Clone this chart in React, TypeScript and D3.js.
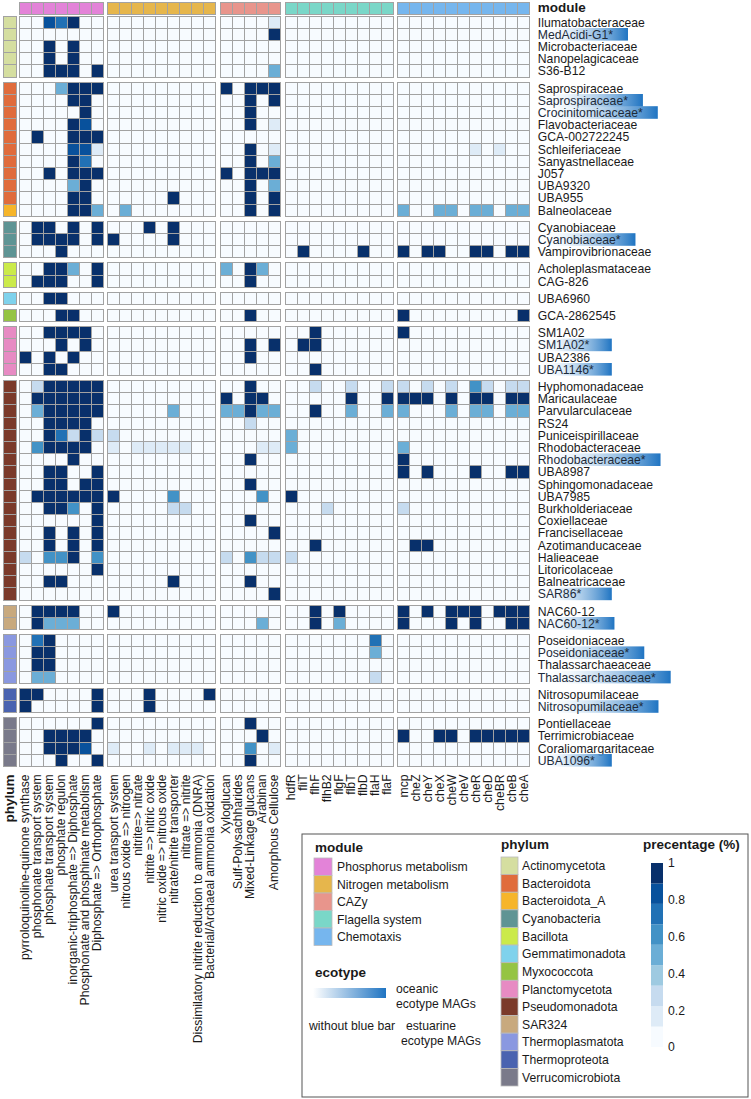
import { useMemo } from 'react';
import * as d3 from 'd3';

// ---- modules / genes ----
const moduleNames = ['Phosphorus metabolism', 'Nitrogen metabolism', 'CAZy', 'Flagella system', 'Chemotaxis'];
const moduleColors = ['#e383d8', '#e6b64c', '#e8958c', '#7ad7c8', '#76b6ee'];

const phosphorusGenes = [
  'pyrroloquinoline-quinone synthase', 'phosphonate transport system', 'phosphate transport system',
  'phosphate regulon', 'inorganic-triphosphate => Diphosphate', 'Phosphonate and phosphinate metabolism',
  'Diphosphate => Orthophosphate',
];
const nitrogenGenes = [
  'urea transport system', 'nitrous oxide => nitrogen', 'nitrite=> nitrate', 'nitrite => nitric oxide',
  'nitric oxide => nitrous oxide', 'nitrate/nitrite transporter', 'nitrate => nitrite',
  'Dissimilatory nitrite reduction to ammonia (DNRA)', 'Bacterial/Archaeal ammonia oxidation',
];
const cazyGenes = ['Xyloglucan', 'Sulf-Polysachharides', 'Mixed-Linkage glucans', 'Arabinan', 'Amorphous Cellulose'];
const flagellaGenes = ['hdfR', 'fliT', 'flhF', 'flhB2', 'flgF', 'flbT', 'flbD', 'flaH', 'flaF'];
const chemotaxisGenes = ['mcp', 'cheZ', 'cheY', 'cheX', 'cheW', 'cheV', 'cheR', 'cheD', 'cheBR', 'cheB', 'cheA'];

// ---- phyla ----
const phyla = [
  'Actinomycetota', 'Bacteroidota', 'Bacteroidota_A', 'Cyanobacteria', 'Bacillota', 'Gemmatimonadota',
  'Myxococcota', 'Planctomycetota', 'Pseudomonadota', 'SAR324', 'Thermoplasmatota', 'Thermoproteota',
  'Verrucomicrobiota',
];
const phylumColors = [
  '#d5dea0', '#e06c3c', '#f6b52a', '#5f9494', '#cbea4a', '#7fd2ec', '#95c443', '#e78bc3', '#7b3a2a',
  '#c8a97e', '#8a98e0', '#4a63b0', '#7a7a8a',
];

// ---- families (rows) ----
const families = [
  'Ilumatobacteraceae', 'MedAcidi-G1*', 'Microbacteriaceae', 'Nanopelagicaceae', 'S36-B12',
  'Saprospiraceae', 'Saprospiraceae*', 'Crocinitomicaceae*', 'Flavobacteriaceae', 'GCA-002722245',
  'Schleiferiaceae', 'Sanyastnellaceae', 'J057', 'UBA9320', 'UBA955', 'Balneolaceae',
  'Cyanobiaceae', 'Cyanobiaceae*', 'Vampirovibrionaceae',
  'Acholeplasmataceae', 'CAG-826',
  'UBA6960',
  'GCA-2862545',
  'SM1A02', 'SM1A02*', 'UBA2386', 'UBA1146*',
  'Hyphomonadaceae', 'Maricaulaceae', 'Parvularculaceae', 'RS24', 'Puniceispirillaceae', 'Rhodobacteraceae',
  'Rhodobacteraceae*', 'UBA8987', 'Sphingomonadaceae', 'UBA7985', 'Burkholderiaceae', 'Coxiellaceae',
  'Francisellaceae', 'Azotimanducaceae', 'Halieaceae', 'Litoricolaceae', 'Balneatricaceae', 'SAR86*',
  'NAC60-12', 'NAC60-12*',
  'Poseidoniaceae', 'Poseidoniaceae*', 'Thalassarchaeaceae', 'Thalassarchaeaceae*',
  'Nitrosopumilaceae', 'Nitrosopumilaceae*',
  'Pontiellaceae', 'Terrimicrobiaceae', 'Coraliomargaritaceae', 'UBA1096*',
];
const familyPhylum = [
  ...Array(5).fill('Actinomycetota'), ...Array(10).fill('Bacteroidota'), 'Bacteroidota_A',
  ...Array(3).fill('Cyanobacteria'), ...Array(2).fill('Bacillota'), 'Gemmatimonadota', 'Myxococcota',
  ...Array(4).fill('Planctomycetota'), ...Array(18).fill('Pseudomonadota'), ...Array(2).fill('SAR324'),
  ...Array(4).fill('Thermoplasmatota'), ...Array(2).fill('Thermoproteota'), ...Array(4).fill('Verrucomicrobiota'),
];
const blockSizes = [5, 11, 3, 2, 1, 1, 4, 18, 2, 4, 2, 4];

// ---- percentages, one row per family ----
const phosphorusValues = [
  [0, 0, .8, .75, 1, 0, 0], [0, 0, 0, 0, 0, 0, 0], [0, 0, 1, 0, 1, 0, 0], [0, 0, 1, 0, 1, 0, 0], [0, 0, 1, 1, 1, 0, 1],
  [0, 0, 0, .5, 1, 1, 1], [0, 0, 0, 0, 1, 1, 0], [0, 0, 0, 0, 0, 1, 0], [0, 0, 0, 0, 1, .8, 0], [0, 1, 0, 0, 1, 1, 1],
  [0, 0, 0, 0, .8, .8, .15], [0, 0, 0, 0, 1, .7, 0], [0, 0, 1, 0, 1, 1, 1], [0, 0, 0, 0, .5, 1, 0], [0, 0, 0, 0, 1, 1, 0],
  [0, 0, 0, 0, 1, 1, .5],
  [0, 1, 1, 0, 1, 0, 1], [0, 1, 1, 1, 1, 0, 1], [0, 0, 0, 1, 0, 0, 0],
  [0, 0, 1, 1, .5, 0, 1], [0, 1, 1, 1, 0, 0, 1],
  [0, 0, 1, 1, 0, 0, 0],
  [0, 0, 0, 1, 1, 0, 0],
  [0, 0, 1, 1, 1, 1, 0], [0, 0, 0, 1, 0, 1, 0], [1, 0, 1, 0, 1, 0, 0], [0, 0, 1, 1, 0, 0, 0],
  [0, .3, 1, 1, 1, 1, 1], [0, 1, 1, 1, 1, 1, 1], [0, .5, 1, 1, 1, 1, 1], [0, 0, 1, 1, 1, 1, 0], [0, 0, 1, .7, .3, 1, .3],
  [0, .6, 1, 1, 1, 1, 0], [0, 0, 0, 0, 1, 0, 0], [0, 0, 1, 1, 0, 0, 1], [0, 0, 1, 1, 0, 1, 1], [0, 1, 1, 1, 1, 1, 1],
  [0, 0, 1, 1, .6, 0, 1], [0, 0, 0, 0, 0, 0, 1], [0, 0, 1, 0, 1, 0, 1], [0, 0, 1, 0, 1, 0, 1], [.3, 0, .6, .6, 1, 0, .6],
  [0, 0, 0, 0, 0, 0, 1], [0, 0, 1, 1, 0, 0, 0], [0, 0, 0, 0, 0, 0, 0],
  [0, 1, 1, 1, 1, 0, 0], [0, 1, .5, .5, .5, 0, 0],
  [0, .7, 1, 0, 0, 0, 0], [0, 1, 1, 0, 0, 0, 0], [0, 1, 1, 0, 0, 0, 0], [0, .5, .5, 0, 0, 0, 0],
  [1, 1, 0, 0, 0, 0, 1], [1, 0, 0, 0, 0, 0, 1],
  [0, 0, 0, 0, 0, 0, 1], [0, 0, 1, 1, 1, 1, 0], [0, 0, 1, 1, 1, .85, 0], [0, 0, 0, 1, 0, 0, 1],
];
const nitrogenValues = [
  [0, 0, 0, 0, 0, 0, 0, 0, 0], [0, 0, 0, 0, 0, 0, 0, 0, 0], [0, 0, 0, 0, 0, 0, 0, 0, 0], [0, 0, 0, 0, 0, 0, 0, 0, 0],
  [0, 0, 0, 0, 0, 0, 0, 0, 0],
  [0, 0, 0, 0, 0, 0, 0, 0, 0], [0, 0, 0, 0, 0, 0, 0, 0, 0], [0, 0, 0, 0, 0, 0, 0, 0, 0], [0, 0, 0, 0, 0, 0, 0, 0, 0],
  [0, 0, 0, 0, 0, 0, 0, 0, 0], [0, 0, 0, 0, 0, 0, 0, 0, 0], [0, 0, 0, 0, 0, 0, 0, 0, 0], [0, 0, 0, 0, 0, 0, 0, 0, 0],
  [0, 0, 0, 0, 0, 0, 0, 0, 0], [0, 0, 0, 0, 0, 1, 0, 0, 0], [0, .5, 0, 0, 0, 0, 0, 0, 0],
  [0, 0, 0, 1, 0, 1, 0, 0, 0], [1, 0, 0, 0, 0, 1, 0, 0, 0], [0, 0, 0, 0, 0, 0, 0, 0, 0],
  [0, 0, 0, 0, 0, 0, 0, 0, 0], [0, 0, 0, 0, 0, 0, 0, 0, 0],
  [0, 0, 0, 0, 0, 0, 0, 0, 0],
  [0, 0, 0, 0, 0, 0, 0, 0, 0],
  [0, 0, 0, 0, 0, 0, 0, 0, 0], [0, 0, 0, 0, 0, 0, 0, 0, 0], [0, 0, 0, 0, 0, 0, 0, 0, 0], [0, 0, 0, 0, 0, 0, 0, 0, 0],
  [0, 0, 0, 0, 0, 0, 0, 0, 0], [0, 0, 0, 0, 0, 0, 0, 0, 0], [0, 0, 0, 0, 0, .5, 0, 0, 0], [0, 0, 0, 0, 0, 0, 0, 0, 0],
  [.3, 0, 0, 0, 0, 0, 0, 0, 0], [.15, 0, .15, .15, .15, .15, .15, 0, 0], [0, 0, 0, 0, 0, 0, 0, 0, 0],
  [0, 0, 0, 0, 0, 0, 0, 0, 0], [0, 0, 0, 0, 0, 0, 0, 0, 0], [1, 0, 0, 0, 0, .6, 0, 0, 0], [0, 0, 0, 0, 0, .3, .3, 0, 0],
  [0, 0, 0, 0, 0, 0, 0, 0, 0], [0, 0, 0, 0, 0, 0, 0, 0, 0], [0, 0, 0, 0, 0, 0, 0, 0, 0], [0, 0, 0, 0, 0, 0, 0, 0, 0],
  [0, 0, 0, 0, 0, 0, 0, 0, 0], [0, 0, 0, 0, 0, 1, 0, 0, 0], [0, 0, 0, 0, 0, 0, 0, 0, 0],
  [1, 0, 0, 0, 0, 0, 0, 0, 0], [0, 0, 0, 0, 0, 0, 0, 0, 0],
  [0, 0, 0, 0, 0, 0, 0, 0, 0], [0, 0, 0, 0, 0, 0, 0, 0, 0], [0, 0, 0, 0, 0, 0, 0, 0, 0], [0, 0, 0, 0, 0, 0, 0, 0, 0],
  [0, 0, 0, 1, 0, 0, 0, 0, 1], [0, 0, 0, 1, 0, 0, 0, 0, 0],
  [0, 0, 0, 0, 0, 0, 0, 0, 0], [0, 0, 0, 0, 0, 0, 0, 0, 0], [.15, 0, 0, .15, 0, .15, .15, .15, 0], [0, 0, 0, 0, 0, 0, 0, 0, 0],
];
const cazyValues = [
  [0, 0, 0, 0, .15], [0, 0, 0, 0, 1], [0, 0, 0, 0, 0], [0, 0, 0, 0, 0], [0, 0, 0, 0, .5],
  [1, 0, 1, 1, 1], [0, 0, 1, 0, 1], [0, 0, 1, 0, 0], [0, 0, 1, 0, .15], [0, 0, 0, 0, 0], [0, 0, 1, 0, .15],
  [0, 0, 1, 0, .5], [1, 0, 1, 1, 1], [0, 0, 1, 0, .5], [0, 0, 1, 0, 1], [0, 0, 1, 0, 1],
  [0, 0, 0, 0, 0], [0, 0, 0, 0, 0], [0, 0, 0, 0, 0],
  [.5, 0, 1, .5, 0], [0, 0, 1, 0, 0],
  [0, 0, 0, 0, 0],
  [0, 0, 1, 0, 0],
  [0, 0, 0, 0, 0], [0, 0, 1, 0, 1], [0, 0, 1, 0, 0], [0, 0, 0, 0, 0],
  [0, 0, 1, 0, 0], [1, 0, 1, 1, 0], [.5, .5, 1, .5, .5], [0, 0, .3, 0, 0], [0, 0, 0, 0, 0], [0, 0, 0, .15, .15],
  [0, 0, 1, 0, 0], [0, 0, 0, 0, 0], [0, 0, 1, 0, 0], [0, 0, 0, .6, 0], [0, 0, 0, 0, 0], [0, 0, 1, 0, 0],
  [0, 0, 0, 0, 1], [0, 0, 0, 0, 0], [.3, 0, .6, .3, .3], [0, 0, 0, 0, 0], [0, 0, 1, 0, 0], [0, 0, 0, 0, 1],
  [0, 0, 0, 0, 0], [0, 0, 0, .5, 0],
  [0, 0, 0, 0, 0], [0, 0, 0, 0, 0], [0, 0, 0, 0, 0], [0, 0, 0, 0, 0],
  [0, 0, 0, 0, 0], [0, 0, 0, 0, 0],
  [0, 0, 1, 0, 0], [0, 0, 0, 1, 0], [0, 0, .6, 0, .15], [0, 0, 1, 0, 0],
];
const flagellaValues = [
  [0, 0, 0, 0, 0, 0, 0, 0, 0], [0, 0, 0, 0, 0, 0, 0, 0, 0], [0, 0, 0, 0, 0, 0, 0, 0, 0], [0, 0, 0, 0, 0, 0, 0, 0, 0],
  [0, 0, 0, 0, 0, 0, 0, 0, 0],
  [0, 0, 0, 0, 0, 0, 0, 0, 0], [0, 0, 0, 0, 0, 0, 0, 0, 0], [0, 0, 0, 0, 0, 0, 0, 0, 0], [0, 0, 0, 0, 0, 0, 0, 0, 0],
  [0, 0, 0, 0, 0, 0, 0, 0, 0], [0, 0, 0, 0, 0, 0, 0, 0, 0], [0, 0, 0, 0, 0, 0, 0, 0, 0], [0, 0, 0, 0, 0, 0, 0, 0, 0],
  [0, 0, 0, 0, 0, 0, 0, 0, 0], [0, 0, 0, 0, 0, 0, 0, 0, 0], [0, 0, 0, 0, 0, 0, 0, 0, 0],
  [0, 0, 0, 0, 0, 0, 0, 0, 0], [0, 0, 0, 0, 0, 0, 0, 0, 0], [0, 1, 0, 0, 0, 0, 1, 0, 0],
  [0, 0, 0, 0, 0, 0, 0, 0, 0], [0, 0, 0, 0, 0, 0, 0, 0, 0],
  [0, 0, 0, 0, 0, 0, 0, 0, 0],
  [0, 0, 0, 0, 0, 0, 0, 0, 0],
  [0, 0, 1, 0, 0, 0, 0, 0, 0], [0, 1, 1, 0, 0, 0, 0, 0, 0], [0, 0, 0, 0, 0, 0, 0, 0, 0], [0, 0, 1, 0, 0, 0, 0, 0, 0],
  [0, 0, .3, 0, 0, .3, 0, 0, .3], [0, 0, 0, 0, 0, 1, 0, 0, 1], [0, 0, 1, 0, 0, .5, 0, 0, .5], [0, 0, 0, 0, 0, 0, 0, 0, 0],
  [.5, 0, 0, 0, 0, 0, 0, 0, 0], [.5, 0, 0, 0, 0, 0, 0, 0, 0], [0, 0, 0, 0, 0, 0, 0, 0, 0], [0, 0, 0, 0, 0, 0, 0, 0, 0],
  [0, 0, 0, 0, 0, 0, 0, 0, 0], [1, 0, 0, 0, 0, 0, 0, 0, 0], [0, 0, 0, .3, 0, 0, 0, 0, 0], [0, 0, 0, 0, 0, 0, 0, 0, 0],
  [0, 0, 0, 0, 0, 0, 0, 0, 0], [0, 0, 1, 0, 0, 0, 0, 0, 0], [.3, 0, 0, 0, 0, 0, 0, 0, 0], [0, 0, 0, 0, 0, 0, 0, 0, 0],
  [0, 0, 0, 0, 0, 0, 0, 0, 0], [0, 0, 0, 0, 0, 0, 0, 0, 0],
  [0, 0, 1, 0, 1, 0, 0, 0, 0], [0, 0, 1, 0, .5, 0, 0, 0, 0],
  [0, 0, 0, 0, 0, 0, 0, .7, 0], [0, 0, 0, 0, 0, 0, 0, .5, 0], [0, 0, 0, 0, 0, 0, 0, 0, 0], [0, 0, 0, 0, 0, 0, 0, .3, 0],
  [0, 0, 0, 0, 0, 0, 0, 0, 0], [0, 0, 0, 0, 0, 0, 0, 0, 0],
  [0, 0, 0, 0, 0, 0, 0, 0, 0], [0, 0, 0, 0, 0, 0, 0, 0, 0], [0, 0, 0, 0, 0, 0, 0, 0, 0], [0, 0, 0, 0, 0, 0, 0, 0, 0],
];
const chemotaxisValues = [
  [0, 0, 0, 0, 0, 0, 0, 0, 0, 0, 0], [0, 0, 0, 0, 0, 0, 0, 0, 0, 0, 0], [0, 0, 0, 0, 0, 0, 0, 0, 0, 0, 0],
  [0, 0, 0, 0, 0, 0, 0, 0, 0, 0, 0], [0, 0, 0, 0, 0, 0, 0, 0, 0, 0, 0],
  [0, 0, 0, 0, 0, 0, 0, 0, 0, 0, 0], [0, 0, 0, 0, 0, 0, 0, 0, 0, 0, 0], [0, 0, 0, 0, 0, 0, 0, 0, 0, 0, 0],
  [0, 0, 0, 0, 0, 0, 0, 0, 0, 0, 0], [0, 0, 0, 0, 0, 0, 0, 0, 0, 0, 0], [0, 0, 0, 0, 0, 0, .15, 0, .15, 0, 0],
  [0, 0, 0, 0, 0, 0, 0, 0, 0, 0, 0], [0, 0, 0, 0, 0, 0, 0, 0, 0, 0, 0], [0, 0, 0, 0, 0, 0, 0, 0, 0, 0, 0],
  [0, 0, 0, 0, 0, 0, 0, 0, 0, 0, 0], [.5, 0, 0, .5, .5, 0, .5, .5, 0, .5, .5],
  [0, 0, 0, 0, 0, 0, 0, 0, 0, 0, 0], [0, 0, 0, 0, 0, 0, 0, 0, 0, 0, 0], [1, 0, 1, 1, 0, 0, 1, 1, 0, 1, 1],
  [0, 0, 0, 0, 0, 0, 0, 0, 0, 0, 0], [0, 0, 0, 0, 0, 0, 0, 0, 0, 0, 0],
  [0, 0, 0, 0, 0, 0, 0, 0, 0, 0, 0],
  [1, 0, 0, 0, 0, 0, 0, 0, 0, 0, 1],
  [1, 0, 0, 0, 0, 0, 0, 0, 0, 0, 0], [0, 0, 0, 0, 0, 0, 0, 0, 0, 0, 0], [0, 0, 0, 0, 0, 0, 0, 0, 0, 0, 0],
  [0, 0, 0, 0, 0, 0, 0, 0, 0, 0, 0],
  [.3, 0, .3, 0, .3, 0, .6, .3, 0, .3, .3], [1, 1, 1, 0, 1, 0, 1, 1, 0, 1, 1], [.5, 0, 0, 0, .5, 0, .5, .5, 0, .5, .5],
  [0, 0, 0, 0, 0, 0, 0, 0, 0, 0, 0], [0, 0, 0, 0, 0, 0, 0, 0, 0, 0, 0], [.5, 0, 0, 0, 0, 0, 0, 0, 0, 0, 0],
  [1, 0, 0, 0, 0, 0, 0, 0, 0, 0, 0], [1, 0, 1, 0, 0, 0, 1, 0, 0, 1, 1], [0, 0, 0, 0, 0, 0, 0, 0, 0, 0, 0],
  [0, 0, 0, 0, 0, 0, 0, 0, 0, 0, 0], [.3, 0, 0, 0, 0, 0, 0, 0, 0, 0, 0], [0, 0, 0, 0, 0, 0, 0, 0, 0, 0, 0],
  [0, 0, 0, 0, 0, 0, 0, 0, 0, 0, 0], [0, 1, 1, 0, 0, 0, 0, 0, 0, 0, 0], [0, 0, 0, 0, 0, 0, 0, 0, 0, 0, 0],
  [0, 0, 0, 0, 0, 0, 0, 0, 0, 0, 0], [0, 0, 0, 0, 0, 0, 0, 0, 0, 0, 0], [0, 0, 0, 0, 0, 0, 0, 0, 0, 0, 0],
  [1, 0, 1, 0, 1, 1, 1, 0, 1, 1, 1], [1, 0, 0, 0, 1, 0, 1, 0, 0, 1, 1],
  [0, 0, 0, 0, 0, 0, 0, 0, 0, 0, 0], [0, 0, 0, 0, 0, 0, 0, 0, 0, 0, 0], [0, 0, 0, 0, 0, 0, 0, 0, 0, 0, 0],
  [0, 0, 0, 0, 0, 0, 0, 0, 0, 0, 0],
  [0, 0, 0, 0, 0, 0, 0, 0, 0, 0, 0], [0, 0, 0, 0, 0, 0, 0, 0, 0, 0, 0],
  [0, 0, 0, 0, 0, 0, 0, 0, 0, 0, 0], [1, 0, 0, 1, 1, 0, 1, 1, 1, 1, 1], [0, 0, 0, 0, 0, 0, 0, 0, 0, 0, 0],
  [0, 0, 0, 0, 0, 0, 0, 0, 0, 0, 0],
];

const legendTicks = [0, 0.2, 0.4, 0.6, 0.8, 1];

const genesByModule = [phosphorusGenes, nitrogenGenes, cazyGenes, flagellaGenes, chemotaxisGenes];
const valuesByModule = [phosphorusValues, nitrogenValues, cazyValues, flagellaValues, chemotaxisValues];

const FONT = "'Liberation Sans', Arial, Helvetica, sans-serif";
const FS = 12.2;
const TXT = '#1a1a1a';
const GRID = '#a2a2a2';
const ECO_BLUE = '#1f74c2';

const CW = 12, RH = 12.2, COL_GAP = 4.7, ROW_GAP = 5;
const GRID_X = 19, GRID_Y = 16;

export default function App() {
  const color = d3.scaleQuantize<string>().domain([0, 1]).range(d3.schemeBlues[9] as string[]);

  const measure = useMemo(() => {
    const ctx = document.createElement('canvas').getContext('2d')!;
    ctx.font = `${FS}px ${FONT}`;
    return (t: string) => ctx.measureText(t).width;
  }, []);

  // column scales, one band scale per module block
  let cx = GRID_X;
  const colScales = genesByModule.map(genes => {
    const s = d3.scaleBand<string>().domain(genes).range([cx, cx + genes.length * CW]);
    cx += genes.length * CW + COL_GAP;
    return s;
  });
  const gridRight = cx - COL_GAP;

  // row scales, one band scale per phylum block
  let cy = GRID_Y;
  let start = 0;
  const rowY: number[] = [];
  blockSizes.forEach(n => {
    const keys = d3.range(start, start + n).map(String);
    const s = d3.scaleBand<string>().domain(keys).range([cy, cy + n * RH]);
    keys.forEach((k, j) => { rowY[start + j] = s(k)!; });
    cy += n * RH + ROW_GAP;
    start += n;
  });
  const gridBottom = cy - ROW_GAP;
  const labelX = gridRight + 8;
  const colLabelY = gridBottom + 8;

  const phylumColor = d3.scaleOrdinal<string, string>().domain(phyla).range(phylumColors);

  // legend
  const LX = 302, LY = 834, LW = 446, LH = 263;
  const modSw = d3.scaleBand<string>().domain(moduleNames).range([858, 858 + 5 * 17.5]);
  const phySw = d3.scaleBand<string>().domain(phyla).range([857, 1086]);
  const cbar = d3.scaleLinear().domain([0, 1]).range([1047, 863]);
  const bins = d3.range(9).map(i => [i / 9, (i + 1) / 9]);

  return (
    <svg width={751} height={1099} style={{ position: 'absolute', left: 0, top: 0, background: '#fff' }}
      fontFamily={FONT}>
      <defs>
        <linearGradient id="eco" x1="0" x2="1" y1="0" y2="0">
          <stop offset="0" stopColor="#ffffff" stopOpacity={0} />
          <stop offset="0.3" stopColor="#d6e7f6" stopOpacity={0.5} />
          <stop offset="1" stopColor={ECO_BLUE} stopOpacity={1} />
        </linearGradient>
        <linearGradient id="ecoLegend" x1="0" x2="1" y1="0" y2="0">
          <stop offset="0" stopColor="#ffffff" />
          <stop offset="1" stopColor={ECO_BLUE} />
        </linearGradient>
      </defs>

      {/* module header bar */}
      {genesByModule.map((genes, m) => (
        <g key={`hdr${m}`}>
          {genes.map(g => (
            <rect key={g} x={colScales[m](g)} y={2} width={colScales[m].bandwidth()} height={12}
              fill={moduleColors[m]} stroke={GRID} strokeWidth={1} shapeRendering="crispEdges" />
          ))}
        </g>
      ))}
      <text x={labelX} y={12} fontSize={13.5} fontWeight="bold" fill={TXT}>module</text>

      {/* phylum column */}
      {families.map((f, i) => (
        <rect key={`ph${f}`} x={3} y={rowY[i]} width={13} height={RH}
          fill={phylumColor(familyPhylum[i])} stroke={GRID} strokeWidth={1} shapeRendering="crispEdges" />
      ))}

      {/* heatmap cells */}
      {valuesByModule.map((vals, m) => (
        <g key={`m${m}`}>
          {vals.map((row, i) => row.map((v, j) => (
            <rect key={`${i}-${j}`} x={colScales[m](genesByModule[m][j])} y={rowY[i]}
              width={colScales[m].bandwidth()} height={RH}
              fill={color(v)} stroke={GRID} strokeWidth={1} shapeRendering="crispEdges" />
          )))}
        </g>
      ))}

      {/* row labels with ecotype bars */}
      {families.map((f, i) => {
        const oceanic = f.endsWith('*');
        const w = Math.max(75, measure(f) + 16);
        return (
          <g key={`lab${f}`}>
            {oceanic && (
              <rect x={labelX - 1} y={rowY[i] - 0.2} width={w} height={RH + 0.4} fill="url(#eco)" />
            )}
            <text x={labelX} y={rowY[i] + RH / 2 + 4.5} fontSize={FS}
              fill={oceanic ? '#1d2b3a' : TXT}>{f}</text>
          </g>
        );
      })}

      {/* column labels */}
      {genesByModule.map((genes, m) => genes.map(g => {
        const x = colScales[m](g)! + colScales[m].bandwidth() / 2;
        return (
          <text key={`cl${g}`} x={x} y={colLabelY} fontSize={FS} fill={TXT} textAnchor="end"
            dominantBaseline="central" transform={`rotate(-90 ${x} ${colLabelY})`}>{g}</text>
        );
      }))}
      <text x={9.5} y={colLabelY} fontSize={13.5} fontWeight="bold" fill={TXT} textAnchor="end"
        dominantBaseline="central" transform={`rotate(-90 9.5 ${colLabelY})`}>phylum</text>

      {/* legend box */}
      <rect x={LX} y={LY} width={LW} height={LH} fill="#fff" stroke="#555" strokeWidth={1} />

      <text x={315} y={852} fontSize={13.5} fontWeight="bold" fill={TXT}>module</text>
      {moduleNames.map((name, m) => (
        <g key={`lm${name}`}>
          <rect x={314} y={modSw(name)} width={18} height={modSw.bandwidth()} fill={moduleColors[m]}
            stroke="#bbb" strokeWidth={0.8} />
          <text x={337} y={modSw(name)! + modSw.bandwidth() / 2 + 4.4} fontSize={FS} fill={TXT}>{name}</text>
        </g>
      ))}

      <text x={315} y={977} fontSize={13.5} fontWeight="bold" fill={TXT}>ecotype</text>
      <rect x={313} y={988} width={73} height={10} fill="url(#ecoLegend)" />
      <text x={396} y={993} fontSize={FS} fill={TXT}>oceanic</text>
      <text x={396} y={1008} fontSize={FS} fill={TXT}>ecotype MAGs</text>
      <text x={309} y={1030} fontSize={FS} fill={TXT}>without blue bar</text>
      <text x={406} y={1030} fontSize={FS} fill={TXT}>estuarine</text>
      <text x={401} y={1045} fontSize={FS} fill={TXT}>ecotype MAGs</text>

      <text x={501} y={849} fontSize={13.5} fontWeight="bold" fill={TXT}>phylum</text>
      {phyla.map(p => (
        <g key={`lp${p}`}>
          <rect x={501} y={phySw(p)} width={17} height={phySw.bandwidth()} fill={phylumColor(p)}
            stroke="#bbb" strokeWidth={0.8} />
          <text x={522} y={phySw(p)! + phySw.bandwidth() / 2 + 4.4} fontSize={FS} fill={TXT}>{p}</text>
        </g>
      ))}

      <text x={643} y={849} fontSize={13.5} fontWeight="bold" fill={TXT}>precentage (%)</text>
      {bins.map(([a, b], i) => (
        <rect key={`cb${i}`} x={651} y={cbar(b)} width={12} height={cbar(a) - cbar(b)}
          fill={(d3.schemeBlues[9] as string[])[i]} />
      ))}
      {legendTicks.map(t => (
        <text key={`t${t}`} x={668} y={cbar(t) + 4.4} fontSize={FS} fill={TXT}>{d3.format('~g')(t)}</text>
      ))}
    </svg>
  );
}
